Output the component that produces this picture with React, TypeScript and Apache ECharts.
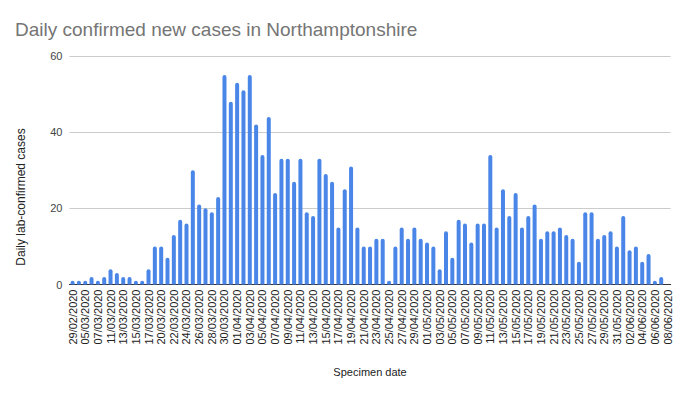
import React, { useEffect, useRef } from "react";
import * as echarts from "echarts";

const dates = [
  "29/02/2020", "03/03/2020", "05/03/2020", "06/03/2020", "07/03/2020", "09/03/2020",
  "11/03/2020", "12/03/2020", "13/03/2020", "14/03/2020", "15/03/2020", "16/03/2020",
  "17/03/2020", "18/03/2020", "20/03/2020", "21/03/2020", "22/03/2020", "23/03/2020",
  "24/03/2020", "25/03/2020", "26/03/2020", "27/03/2020", "28/03/2020", "29/03/2020",
  "30/03/2020", "31/03/2020", "01/04/2020", "02/04/2020", "03/04/2020", "04/04/2020",
  "05/04/2020", "06/04/2020", "07/04/2020", "08/04/2020", "09/04/2020", "10/04/2020",
  "11/04/2020", "12/04/2020", "13/04/2020", "14/04/2020", "15/04/2020", "16/04/2020",
  "17/04/2020", "18/04/2020", "19/04/2020", "20/04/2020", "21/04/2020", "22/04/2020",
  "23/04/2020", "24/04/2020", "25/04/2020", "26/04/2020", "27/04/2020", "28/04/2020",
  "29/04/2020", "30/04/2020", "01/05/2020", "02/05/2020", "03/05/2020", "04/05/2020",
  "05/05/2020", "06/05/2020", "07/05/2020", "08/05/2020", "09/05/2020", "10/05/2020",
  "11/05/2020", "12/05/2020", "13/05/2020", "14/05/2020", "15/05/2020", "16/05/2020",
  "17/05/2020", "18/05/2020", "19/05/2020", "20/05/2020", "21/05/2020", "22/05/2020",
  "23/05/2020", "24/05/2020", "25/05/2020", "26/05/2020", "27/05/2020", "28/05/2020",
  "29/05/2020", "30/05/2020", "31/05/2020", "01/06/2020", "02/06/2020", "03/06/2020",
  "04/06/2020", "05/06/2020", "06/06/2020", "07/06/2020", "08/06/2020",
];

const cases = [
  1, 1, 1, 2, 1, 2,
  4, 3, 2, 2, 1, 1,
  4, 10, 10, 7, 13, 17,
  16, 30, 21, 20, 19, 23,
  55, 48, 53, 51, 55, 42,
  34, 44, 24, 33, 33, 27,
  33, 19, 18, 33, 29, 27,
  15, 25, 31, 15, 10, 10,
  12, 12, 1, 10, 15, 12,
  15, 12, 11, 10, 4, 14,
  7, 17, 16, 11, 16, 16,
  34, 15, 25, 18, 24, 15,
  18, 21, 12, 14, 14, 15,
  13, 12, 6, 19, 19, 12,
  13, 14, 10, 18, 9, 10,
  6, 8, 1, 2, 0,
];

const yTicks = [0, 20, 40, 60];

const titleText = "Daily confirmed new cases in Northamptonshire";
const xName = "Specimen date";
const yName = "Daily lab-confirmed cases";

export default function App() {
  const ref = useRef<HTMLDivElement>(null);

  useEffect(() => {
    if (!ref.current) return;
    const chart = echarts.init(ref.current, null, { renderer: "svg" });
    const font = "'Liberation Sans', Arial, sans-serif";
    chart.setOption({
      animation: false,
      backgroundColor: "#ffffff",
      textStyle: { fontFamily: font },
      title: {
        text: titleText,
        left: 10,
        top: 15,
        textStyle: {
          fontFamily: font,
          fontSize: 19,
          fontWeight: "normal",
          color: "#757575",
        },
      },
      grid: {
        left: 69.4,
        right: 15.3,
        top: 56,
        bottom: 108.5,
        containLabel: false,
      },
      graphic: [
        {
          type: "text",
          x: 21,
          y: 197,
          rotation: Math.PI / 2,
          style: {
            text: yName,
            font: "12px 'Liberation Sans', Arial, sans-serif",
            fill: "#222",
            textAlign: "center",
            textVerticalAlign: "middle",
          },
        },
      ],
      xAxis: {
        type: "category",
        data: dates,
        name: xName,
        nameLocation: "middle",
        nameGap: 82,
        nameTextStyle: { fontFamily: font, fontSize: 11, color: "#222" },
        axisLine: { show: true, lineStyle: { color: "#333", width: 1 } },
        axisTick: { show: false },
        axisLabel: {
          interval: 1,
          rotate: 90,
          fontSize: 11,
          color: "#222",
          margin: 5,
          fontFamily: font,
        },
      },
      yAxis: {
        type: "value",
        min: yTicks[0],
        max: yTicks[yTicks.length - 1],
        interval: 20,
        axisLine: { show: false },
        axisTick: { show: false },
        axisLabel: { fontSize: 11, color: "#444", margin: 7, fontFamily: font },
        splitLine: { lineStyle: { color: "#cccccc", width: 1 } },
      },
      series: [
        {
          type: "bar",
          data: cases,
          barWidth: 4,
          itemStyle: { color: "#4a86e8", borderRadius: [2, 2, 0, 0] },
        },
      ],
    });
    return () => chart.dispose();
  }, []);

  return (
    <div
      ref={ref}
      style={{ position: "fixed", left: 0, top: 0, width: 686, height: 393 }}
    />
  );
}
